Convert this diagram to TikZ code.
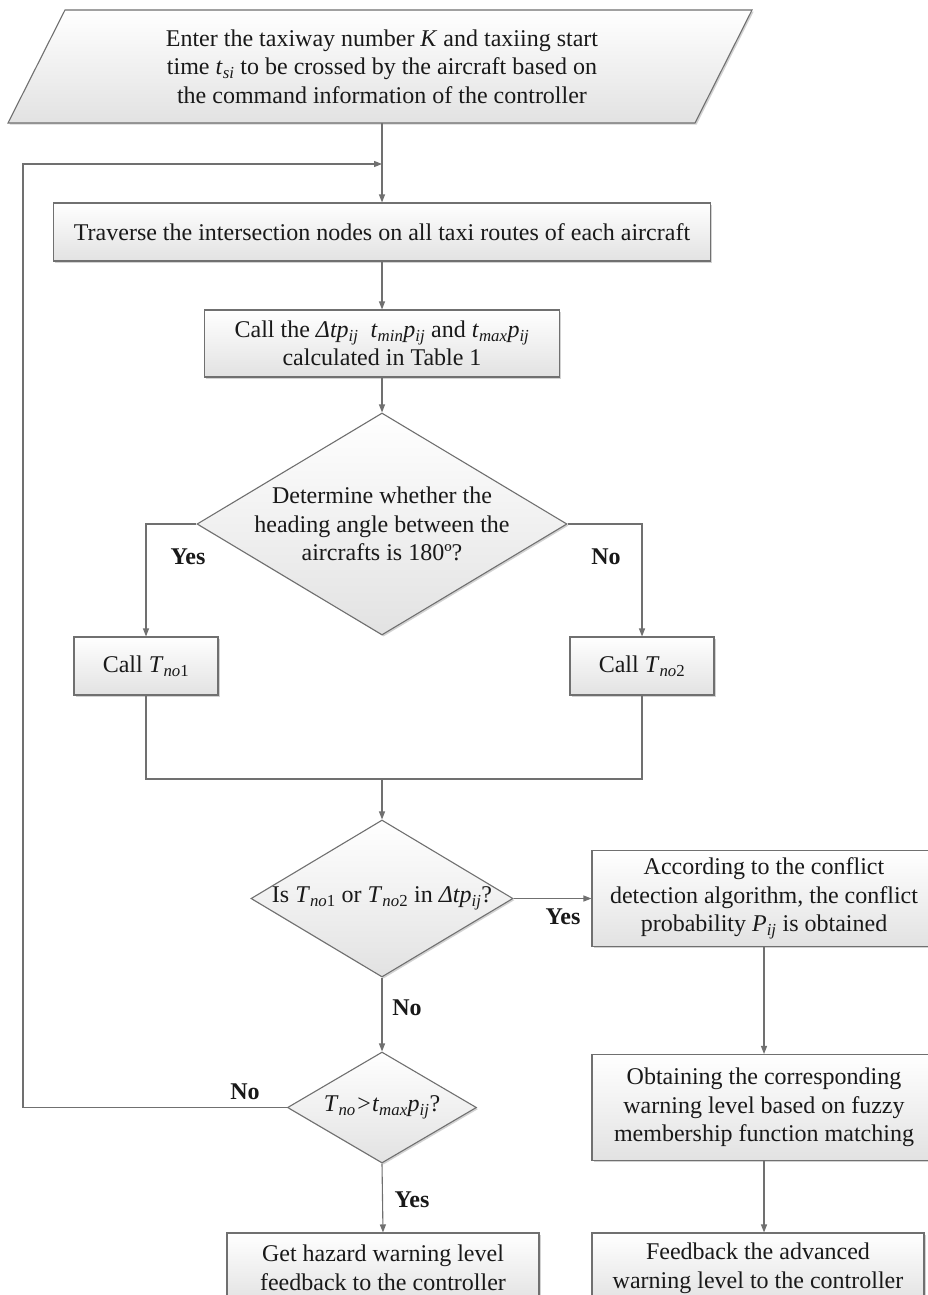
\documentclass[tikz,border=0pt]{standalone}
\usepackage{fontspec}
\setmainfont{Liberation Serif}
\usetikzlibrary{arrows.meta,shapes.geometric,shadows}
\newcommand{\sbx}[1]{\textsubscript{\textit{#1}}}
\newcommand{\txtfont}{\fontsize{24}{28.5}\selectfont}
\definecolor{linegray}{RGB}{112,112,112}
\definecolor{boxgray}{RGB}{226,226,226}
\definecolor{txtc}{RGB}{25,25,25}
\begin{document}
\begin{tikzpicture}[x=1pt,y=1pt,
  shd/.style={drop shadow={shadow xshift=1.6pt,shadow yshift=-1.6pt,opacity=0.35,fill=gray}},
  box/.style={shape=rectangle,draw=linegray,line width=1.1pt,top color=white,bottom color=boxgray,
    align=center,font=\txtfont,text=txtc,inner sep=0pt,shd},
  dia/.style={shape=diamond,draw=linegray,line width=1.1pt,top color=white,bottom color=boxgray,
    inner sep=0pt,shd},
  txt/.style={align=center,font=\txtfont,text=txtc,inner sep=0pt},
  lab/.style={font=\txtfont\bfseries,text=txtc,inner sep=0pt},
  conn/.style={draw=linegray,line width=1.1pt},
  arr/.style={conn,-{Triangle[length=8pt,width=6pt]}}]
\useasboundingbox (0,0) rectangle (928,-1295);
\fill[white] (0,0) rectangle (928,-1295);

% input parallelogram
\shadedraw[top color=white,bottom color=boxgray,draw=linegray,line width=1.1pt,shd]
  (65,-10) -- (752,-10) -- (695,-123) -- (8,-123) -- cycle;
\node[txt,minimum width=744,minimum height=113] (inp) at (382,-66.5)
  {Enter the taxiway number \textit{K} and taxiing start\\
   time \textit{t}\sbx{si} to be crossed by the aircraft based on\\
   the command information of the controller};

\node[box,minimum width=657,minimum height=58] (trav) at (382,-232)
  {Traverse the intersection nodes on all taxi routes of each aircraft};
\node[box,minimum width=355,minimum height=67] (call) at (382,-343.5)
  {Call the \textit{Δtp}\sbx{ij}\ \ \textit{t}\sbx{min}\textit{p}\sbx{ij} and \textit{t}\sbx{max}\textit{p}\sbx{ij}\\
   calculated in Table 1};

\node[dia,minimum width=370,minimum height=222] (d1) at (382,-524) {};
\node[txt] (d1t) at (d1.center)
  {Determine whether the\\heading angle between the\\aircrafts is 180º?};

\node[box,minimum width=144,minimum height=58] (t1) at (146,-666)
  {Call \textit{T}\textsubscript{\textit{no}1}};
\node[box,minimum width=144,minimum height=58] (t2) at (642,-666)
  {Call \textit{T}\textsubscript{\textit{no}2}};

\coordinate (mg) at (382,-779);
\coordinate (fb) at (382,-164);
\coordinate (lc) at (23,-1107.5);

\node[dia,minimum width=262,minimum height=157] (d2) at (382,-898.5) {};
\node[txt] (d2t) at (d2.center)
  {Is \textit{T}\textsubscript{\textit{no}1} or \textit{T}\textsubscript{\textit{no}2} in \textit{Δtp}\sbx{ij}?};

\node[box,minimum width=344,minimum height=96] (r1) at (764,-898.5)
  {According to the conflict\\detection algorithm, the conflict\\probability \textit{P}\sbx{ij} is obtained};

\node[dia,minimum width=189,minimum height=111] (d3) at (382,-1107.5) {};
\node[txt] (d3t) at (d3.center)
  {\textit{T}\sbx{no}\textit{{>}t}\sbx{max}\textit{p}\sbx{ij}?};

\node[box,minimum width=344,minimum height=106] (r2) at (764,-1107.5)
  {Obtaining the corresponding\\warning level based on fuzzy\\membership function matching};

\node[box,minimum width=312,minimum height=70] (b1) at (383,-1268)
  {Get hazard warning level\\feedback to the controller};
\node[box,minimum width=332,minimum height=70] (r3) at (758,-1268)
  {Feedback the advanced\\warning level to the controller};

% connectors
\draw[arr] (inp.south) -- (trav.north);
\draw[arr] (d3.west) -- (lc) |- (fb);
\draw[arr] (trav.south) -- (call.north);
\draw[arr] (call.south) -- (d1.north);
\draw[arr] (d1.west) -| (t1.north);
\draw[arr] (d1.east) -| (t2.north);
\draw[conn] (t1.south) |- (mg) -| (t2.south);
\draw[arr] (mg) -- (d2.north);
\draw[arr] (d2.east) -- (r1.west);
\draw[arr] (d2.south) -- (d3.north);
\draw[arr] (d3.south) -- (b1.north);
\draw[arr] (r1.south) -- (r2.north);
\draw[arr] (r2.south) -- (r2.south |- r3.north);

% labels
\node[lab] (l1) at (188,-557) {Yes};
\node[lab] (l2) at (606,-557) {No};
\node[lab] (l3) at (563,-917) {Yes};
\node[lab] (l4) at (407,-1008) {No};
\node[lab] (l5) at (245,-1092) {No};
\node[lab] (l6) at (412,-1200) {Yes};
\end{tikzpicture}
\end{document}
